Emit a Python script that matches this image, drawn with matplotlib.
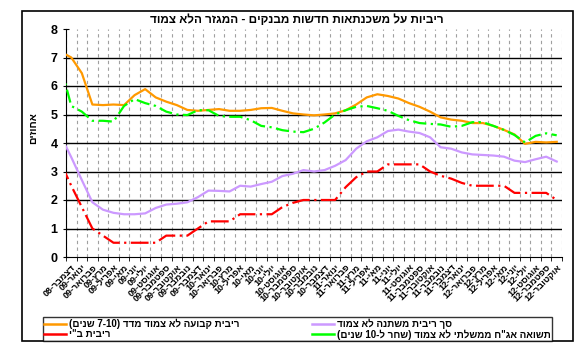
import re
import numpy as np
import matplotlib
matplotlib.use('Agg')
import matplotlib.pyplot as plt
from matplotlib.lines import Line2D
from matplotlib.patches import Rectangle

# months Nov-08 .. Oct-12 (Nov-08 only shows as the stub at the left edge)
heb_months = ['ינואר', 'פברואר', 'מרץ', 'אפריל', 'מאי', 'יוני', 'יולי',
              'אוגוסט', 'ספטמבר', 'אוקטובר', 'נובמבר', 'דצמבר']
months = ['%s-%02d' % (heb_months[(10 + k) % 12], 8 + (10 + k) // 12) for k in range(48)]

fixed_rate = [7.2, 7.0, 6.45, 5.35, 5.33, 5.35, 5.33, 5.68, 5.89, 5.6, 5.45, 5.33,
              5.16, 5.13, 5.16, 5.19, 5.13, 5.13, 5.16, 5.22, 5.23, 5.13, 5.04, 5.0,
              4.97, 5.0, 5.04, 5.15, 5.35, 5.6, 5.71, 5.65, 5.56, 5.4, 5.27, 5.1,
              4.9, 4.82, 4.78, 4.7, 4.7, 4.6, 4.46, 4.3, 3.97, 4.04, 4.02, 4.04]
variable_rate = [4.25, 3.5, 2.7, 1.92, 1.66, 1.55, 1.5, 1.5, 1.53, 1.72, 1.84, 1.87,
                 1.92, 2.1, 2.33, 2.32, 2.3, 2.5, 2.47, 2.56, 2.64, 2.84, 2.92, 3.05,
                 3.0, 3.05, 3.2, 3.4, 3.8, 4.06, 4.2, 4.42, 4.47, 4.4, 4.35, 4.2,
                 3.85, 3.8, 3.67, 3.6, 3.58, 3.56, 3.52, 3.38, 3.33, 3.43, 3.52, 3.35]
boi_rate = [3.3, 2.5, 1.75, 1.0, 0.75, 0.5, 0.5, 0.5, 0.5, 0.5, 0.75, 0.75,
            0.75, 1.0, 1.25, 1.25, 1.25, 1.5, 1.5, 1.5, 1.5, 1.75, 1.9, 2.0,
            2.0, 2.0, 2.0, 2.45, 2.8, 3.0, 3.0, 3.25, 3.25, 3.25, 3.25, 3.0,
            2.85, 2.75, 2.6, 2.5, 2.5, 2.5, 2.5, 2.25, 2.25, 2.25, 2.25, 2.0]
bond_yield = [6.7, 5.3, 5.1, 4.78, 4.78, 4.75, 5.3, 5.54, 5.4, 5.3, 5.1, 5.0,
              4.98, 5.15, 5.15, 4.95, 4.92, 4.92, 4.8, 4.6, 4.55, 4.45, 4.4, 4.38,
              4.5, 4.72, 5.0, 5.15, 5.27, 5.3, 5.22, 5.13, 4.95, 4.8, 4.7, 4.67,
              4.65, 4.57, 4.6, 4.73, 4.73, 4.6, 4.46, 4.28, 4.02, 4.25, 4.34, 4.27]

title = 'ריביות על משכנתאות חדשות מבנקים - המגזר הלא צמוד'
ylabel = 'אחוזים'
series_names = ['ריבית קבועה לא צמוד מדד (7-10 שנים)', 'ריבית ב"י',
                'סך ריבית משתנה לא צמוד', 'תשואה אג"ח ממשלתי לא צמוד (שחר ל-10 שנים)']


def rtl(s):
    # no bidi in matplotlib: flip for display, keep numbers readable, mirror brackets
    out = s[::-1]
    out = re.sub(r'\d+(?:-\d+)*', lambda m: m.group(0)[::-1], out)
    return out.translate(str.maketrans('()', ')('))


plt.rcParams['font.family'] = ['Liberation Sans', 'DejaVu Sans']
plt.rcParams['font.weight'] = 'bold'

W, H = 586, 353
fig = plt.figure(figsize=(W / 100, H / 100), dpi=100)
fig.patches.append(Rectangle((22 / W, 1 - 341 / H), (573 - 22) / W, (341 - 11) / H,
                             transform=fig.transFigure, fill=False,
                             edgecolor='black', lw=1.2))

ax = fig.add_axes([66 / W, 1 - 257 / H, 496 / W, 228 / H])
x = np.arange(len(months)) - 0.5

ax.plot(x, fixed_rate, color='#FF9900', lw=1.6, zorder=3)
ax.plot(x, variable_rate, color='#CC99FF', lw=1.6, zorder=3)
ax.plot(x, boi_rate, color='#FF0000', lw=1.6, dashes=(8, 2, 1, 2), zorder=3)
ax.plot(x, bond_yield, color='#00FF00', lw=1.6, dashes=(6, 2, 1, 2), zorder=3)

ax.set_xlim(0, len(months) - 1)
ax.set_ylim(0, 8)

ax.set_xticks(np.arange(0, len(months)), minor=True)
ax.set_xticks(x[1:])
ax.set_xticklabels([rtl(m) for m in months[1:]], rotation=45, ha='right', va='top',
                   rotation_mode='anchor', fontsize=6.5)
ax.tick_params(axis='x', which='major', length=0, pad=4)
ax.tick_params(axis='x', which='minor', length=3, direction='out')
ax.grid(which='minor', axis='x', color='#a0a0a0', ls=(0, (3, 3)), lw=0.8)
ax.set_axisbelow(True)
for v in range(1, 8):
    ax.axhline(v, color='black', lw=1, zorder=1)

ax.set_yticks(range(9))
ax.tick_params(axis='y', length=4, direction='inout', labelsize=9, pad=4)
for s in ['top', 'right']:
    ax.spines[s].set_visible(False)

fig.text(297 / W, 1 - 20 / H, rtl(title), ha='center', va='center', fontsize=8.5)
fig.text(33 / W, 1 - 128 / H, rtl(ylabel), ha='center', va='center', rotation=90, fontsize=7.5)

handles = [Line2D([], [], color=c, lw=1.8) for c in ['#FF9900', '#FF0000', '#CC99FF', '#00FF00']]
leg = fig.legend(handles, [rtl(s) for s in series_names], ncol=2, mode='expand',
                 loc='lower left', bbox_to_anchor=(43 / W, 1 - 341 / H, (552 - 43) / W, 21 / H),
                 frameon=True, fancybox=False, edgecolor='black', fontsize=7,
                 handlelength=2.2, borderpad=0.15, labelspacing=0.0,
                 handletextpad=0.3, borderaxespad=0)
leg.get_frame().set_linewidth(1.0)

fig.savefig('out.png', dpi=100)
